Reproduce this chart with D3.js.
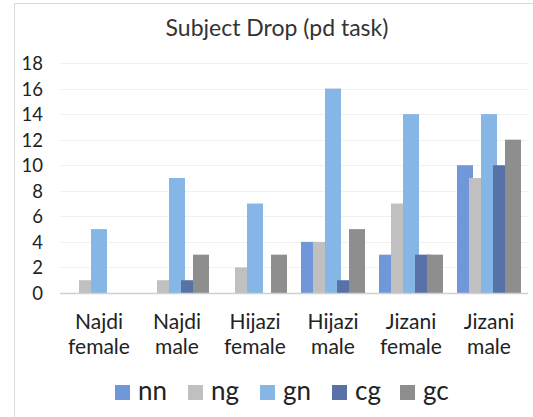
<!DOCTYPE html>
<html><head><meta charset="utf-8">
<script src="https://cdn.jsdelivr.net/npm/d3@7/dist/d3.min.js"></script>
<style>body{margin:0;background:#fff;}svg{display:block;font-family:Lato,"Open Sans",sans-serif;}</style>
</head><body>
<svg id="c" width="533" height="417"></svg>
<script>
const title = "Subject Drop (pd task)";
const categories = [["Najdi","female"],["Najdi","male"],["Hijazi","female"],["Hijazi","male"],["Jizani","female"],["Jizani","male"]];
const seriesNames = ["nn","ng","gn","cg","gc"];
const seriesColors = ["#7098d8","#c0c0c0","#86b6e6","#5872a8","#8e8e8e"];
const nn = [0,0,0,4,3,10];
const ng = [1,1,2,4,7,9];
const gn = [5,9,7,16,14,14];
const cg = [0,1,0,1,3,10];
const gc = [0,3,3,5,3,12];
const seriesValues = [nn,ng,gn,cg,gc];
const yTicks = [0,2,4,6,8,10,12,14,16,18];

const svg = d3.select("#c");
svg.append("rect").attr("x",14.5).attr("y",3.5).attr("width",600).attr("height",500)
  .attr("fill","#fff").attr("stroke","#d9d9d9");

const pLeft=60, pRight=528, pTop=63, pBottom=293;
const x = d3.scaleBand().domain(d3.range(categories.length)).range([pLeft,pRight]);
const y = d3.scaleLinear().domain([0,18]).range([pBottom,pTop]);
const barW = 16, step = 12;
const inner = d3.scaleLinear().domain([0,4]).range([0,4*step]);

// gridlines
svg.append("g").selectAll("line").data(yTicks.filter(d=>d>0)).join("line")
  .attr("x1",pLeft).attr("x2",pRight).attr("y1",d=>Math.round(y(d))+0.5).attr("y2",d=>Math.round(y(d))+0.5)
  .attr("stroke","#f0f0f0").attr("stroke-width",1);

// y axis labels
const yAxis = d3.axisLeft(y).tickValues(yTicks).tickSize(0).tickPadding(0);
const gy = svg.append("g").attr("transform",`translate(43,0)`).call(yAxis);
gy.select(".domain").remove();
gy.selectAll("text").attr("font-size",18.5).attr("fill","#222").attr("font-family","Lato,sans-serif").attr("dy","0.35em");

// bars
seriesValues.forEach((vals,si)=>{
  svg.append("g").selectAll("rect").data(vals).join("rect")
    .attr("x",(d,i)=>x(i)+x.bandwidth()/2-(4*step+barW)/2+inner(si))
    .attr("width",barW)
    .attr("y",d=>y(d))
    .attr("height",d=>y(0)-y(d))
    .attr("fill",seriesColors[si]);
});

// axis line
svg.append("line").attr("x1",pLeft).attr("x2",pRight).attr("y1",pBottom+0.5).attr("y2",pBottom+0.5)
  .attr("stroke","#d0d0d0").attr("stroke-width",1.5);

// x labels
const xl = svg.append("g").selectAll("text").data(categories).join("text")
  .attr("x",(d,i)=>x(i)+x.bandwidth()/2).attr("y",329)
  .attr("text-anchor","middle").attr("font-size",21).attr("fill","#222");
xl.append("tspan").attr("x",(d,i)=>x(i)+x.bandwidth()/2).text(d=>d[0]);
xl.append("tspan").attr("x",(d,i)=>x(i)+x.bandwidth()/2).attr("dy",25).text(d=>d[1]);

// title
svg.append("text").attr("x",277).attr("y",36).attr("text-anchor","middle")
  .attr("font-size",23).attr("fill","#333").text(title);

// legend
const legX = [115,188,260,332,400];
const lg = svg.append("g").selectAll("g").data(seriesNames).join("g")
  .attr("transform",(d,i)=>`translate(${legX[i]},0)`);
lg.append("rect").attr("x",0).attr("y",385).attr("width",15).attr("height",15).attr("fill",(d,i)=>seriesColors[i]);
lg.append("text").attr("x",23).attr("y",400).attr("font-size",26).attr("fill","#222").text(d=>d);
</script>
</body></html>
